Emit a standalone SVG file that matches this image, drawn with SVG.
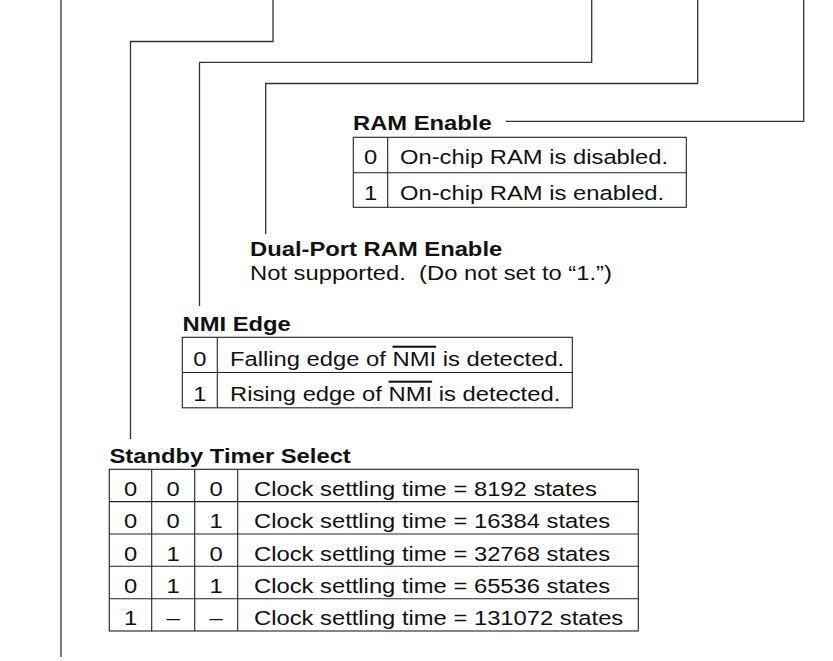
<svg xmlns="http://www.w3.org/2000/svg" width="833" height="661" viewBox="0 0 833 661">
<style>
.t{font-family:"Liberation Sans",Arial,sans-serif;font-size:20.5px;fill:#111}
.b{font-weight:bold}
.m{text-anchor:middle}
.c{fill:none;stroke:#333;stroke-width:1.3}
.g{fill:none;stroke:#222;stroke-width:1.1}
.ov{text-decoration:overline}
</style>
<rect width="833" height="661" fill="#fff"/>
<g id="connectors">
<path class="c" d="M61,0 V657"/>
<path class="c" d="M273,0 V41.5 H130.5 V439"/>
<path class="c" d="M591.7,0 V62.3 H199.5 V306"/>
<path class="c" d="M697.7,0 V83.5 H265.7 V234"/>
<path class="c" d="M803.7,0 V121.3 H506"/>
</g>
<g id="ram-enable">
<text class="t b" transform="translate(353,130) scale(1.16,1)">RAM Enable</text>
<rect class="g" x="353.3" y="137.3" width="333" height="70"/>
<line class="g" x1="353.3" y1="172.7" x2="686.3" y2="172.7"/>
<line class="g" x1="387.7" y1="137.3" x2="387.7" y2="207.3"/>
<text class="t m" transform="translate(370.5,164) scale(1.16,1)">0</text>
<text class="t" transform="translate(400,164) scale(1.16,1)">On-chip RAM is disabled.</text>
<text class="t m" transform="translate(370.5,199.5) scale(1.16,1)">1</text>
<text class="t" transform="translate(400,199.5) scale(1.16,1)">On-chip RAM is enabled.</text>
</g>
<g id="dual-port-ram-enable">
<text class="t b" transform="translate(250,256) scale(1.16,1)">Dual-Port RAM Enable</text>
<text class="t" transform="translate(250,279.5) scale(1.16,1)" xml:space="preserve">Not supported.  (Do not set to “1.”)</text>
</g>
<g id="nmi-edge">
<text class="t b" transform="translate(182.5,331) scale(1.16,1)">NMI Edge</text>
<rect class="g" x="182.3" y="337.3" width="390" height="70.5"/>
<line class="g" x1="182.3" y1="372.5" x2="572.3" y2="372.5"/>
<line class="g" x1="217.3" y1="337.3" x2="217.3" y2="407.8"/>
<text class="t m" transform="translate(199.8,366) scale(1.16,1)">0</text>
<text class="t" transform="translate(230,366) scale(1.16,1)">Falling edge of <tspan class="ov">NMI</tspan> is detected.</text>
<text class="t m" transform="translate(199.8,401) scale(1.16,1)">1</text>
<text class="t" transform="translate(230,401) scale(1.16,1)">Rising edge of <tspan class="ov">NMI</tspan> is detected.</text>
</g>
<g id="standby-timer-select">
<text class="t b" transform="translate(109.5,462.7) scale(1.16,1)">Standby Timer Select</text>
<rect class="g" x="109.3" y="469.3" width="529" height="161.7"/>
<g class="g">
<line x1="109.3" y1="501.6" x2="638.3" y2="501.6"/>
<line x1="109.3" y1="534" x2="638.3" y2="534"/>
<line x1="109.3" y1="566.3" x2="638.3" y2="566.3"/>
<line x1="109.3" y1="598.7" x2="638.3" y2="598.7"/>
<line x1="151.7" y1="469.3" x2="151.7" y2="631"/>
<line x1="194.7" y1="469.3" x2="194.7" y2="631"/>
<line x1="237.7" y1="469.3" x2="237.7" y2="631"/>
</g>
<text class="t m" transform="translate(130.5,496) scale(1.16,1)">0</text>
<text class="t m" transform="translate(173.2,496) scale(1.16,1)">0</text>
<text class="t m" transform="translate(216.2,496) scale(1.16,1)">0</text>
<text class="t" transform="translate(254,496) scale(1.16,1)">Clock settling time = 8192 states</text>
<text class="t m" transform="translate(130.5,528.3) scale(1.16,1)">0</text>
<text class="t m" transform="translate(173.2,528.3) scale(1.16,1)">0</text>
<text class="t m" transform="translate(216.2,528.3) scale(1.16,1)">1</text>
<text class="t" transform="translate(254,528.3) scale(1.16,1)">Clock settling time = 16384 states</text>
<text class="t m" transform="translate(130.5,560.6) scale(1.16,1)">0</text>
<text class="t m" transform="translate(173.2,560.6) scale(1.16,1)">1</text>
<text class="t m" transform="translate(216.2,560.6) scale(1.16,1)">0</text>
<text class="t" transform="translate(254,560.6) scale(1.16,1)">Clock settling time = 32768 states</text>
<text class="t m" transform="translate(130.5,593) scale(1.16,1)">0</text>
<text class="t m" transform="translate(173.2,593) scale(1.16,1)">1</text>
<text class="t m" transform="translate(216.2,593) scale(1.16,1)">1</text>
<text class="t" transform="translate(254,593) scale(1.16,1)">Clock settling time = 65536 states</text>
<text class="t m" transform="translate(130.5,625.3) scale(1.16,1)">1</text>
<text class="t m" transform="translate(173.2,625.3) scale(1.16,1)">–</text>
<text class="t m" transform="translate(216.2,625.3) scale(1.16,1)">–</text>
<text class="t" transform="translate(254,625.3) scale(1.16,1)">Clock settling time = 131072 states</text>
</g>
</svg>
